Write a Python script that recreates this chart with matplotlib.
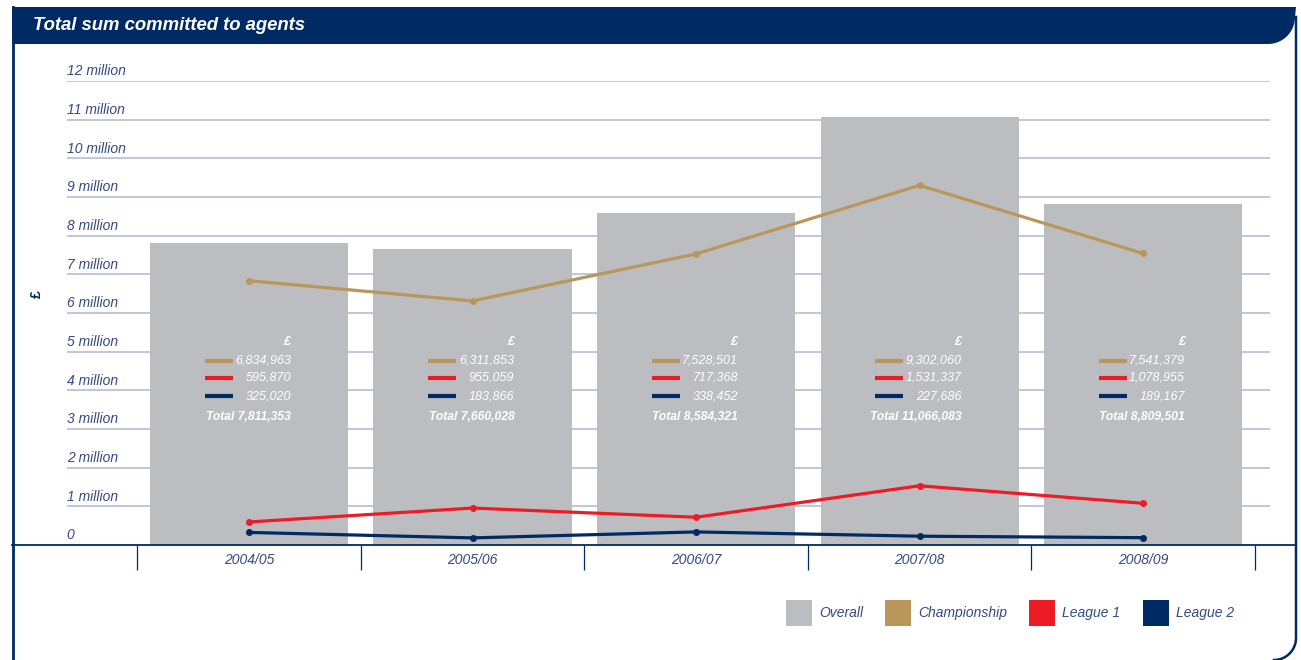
import numpy as np
import matplotlib.pyplot as plt
from matplotlib.patches import Patch, PathPatch
from matplotlib.path import Path
from matplotlib.lines import Line2D

plt.rcParams['font.family'] = ['Liberation Sans', 'DejaVu Sans']

# Data (GBP)
seasons = ["2004/05", "2005/06", "2006/07", "2007/08", "2008/09"]
overall = [7811353, 7660028, 8584321, 11066083, 8809501]
championship = [6834963, 6311853, 7528501, 9302060, 7541379]
league1 = [595870, 955059, 717368, 1531337, 1078955]
league2 = [325020, 183866, 338452, 227686, 189167]
ytick_labels = ["0"] + [f"{i} million" for i in range(1, 13)]
legend_labels = ["Overall", "Championship", "League 1", "League 2"]

# Colours
NAVY = "#002a64"
TEXT = "#34497f"
GRAY = "#bcbdc0"
TAN = "#b9975b"
RED = "#ed1c24"
GRID = "#b6bbd9"

W, H = 1301, 660


def fx(px):
    return px / W


def fy(py):
    return 1 - py / H


fig = plt.figure(figsize=(W / 100, H / 100), dpi=100)

# axes: x pixel 12..1295, y 0 at px 545, 12 million at px 81
ax = fig.add_axes([fx(12), fy(545), (1295 - 12) / W, (545 - 81) / H])
ax.set_xlim(-1.0604, 4.68)
ax.set_ylim(0, 12)

x = np.arange(len(seasons))
m = 1e6

# gridlines + y labels
ax.hlines(np.arange(1, 13), -0.815, 4.57, color=GRID, lw=1.2, zorder=0)
for i, lab in enumerate(ytick_labels):
    ax.text(-0.815, i + 0.25, lab, ha='left', va='center', fontsize=10,
            style='italic', color=TEXT)

# bars
ax.bar(x, np.array(overall) / m, width=0.886, color=GRAY, zorder=1)

# lines
for vals, col in [(championship, TAN), (league1, RED), (league2, NAVY)]:
    ax.plot(x, np.array(vals) / m, color=col, lw=2.3, marker='o', ms=4,
            zorder=3, solid_capstyle='round')

# annotations inside bars
row_y = [4.77, 4.32, 3.85]
for i in range(len(seasons)):
    ax.text(i + 0.187, 5.26, "£", ha='right', va='center', color='white',
            fontsize=9, style='italic', weight='bold', zorder=4)
    for vals, col, yy in zip([championship, league1, league2],
                             [TAN, RED, NAVY], row_y):
        ax.hlines(yy, i - 0.197, i - 0.073, color=col, lw=3, zorder=4)
        ax.text(i + 0.187, yy, f"{vals[i]:,}", ha='right', va='center',
                color='white', fontsize=9, style='italic', zorder=4)
    ax.text(i + 0.187, 3.32, f"Total {overall[i]:,}", ha='right', va='center',
            color='white', fontsize=8.7, style='italic', weight='bold', zorder=4)

# axes styling
for s in ['top', 'left', 'right']:
    ax.spines[s].set_visible(False)
ax.spines['bottom'].set_color(NAVY)
ax.spines['bottom'].set_linewidth(1.3)
ax.set_yticks([])
ax.set_xticks(x, seasons)
ax.set_xticks(np.arange(-0.5, 5.0, 1), minor=True)
ax.tick_params(axis='x', which='major', length=0, pad=6, labelsize=10,
               labelcolor=TEXT)
ax.tick_params(axis='x', which='minor', length=18, width=0.9, color=NAVY,
               direction='out')
for lab in ax.get_xticklabels():
    lab.set_style('italic')

# y axis label
fig.text(fx(37), fy(294), "£", rotation=90, ha='center', va='center',
         fontsize=10, weight='bold', color=NAVY)

# header band with rounded lower-right corner
ang = np.linspace(0, -np.pi / 2, 20)
cx, cy, r = 1268, 17, 27
arc = [(cx + r * np.cos(a), cy - r * np.sin(a)) for a in ang]
pts = [(12, 7), (1296, 7)] + arc + [(12, 44), (12, 7)]
hdr = Path([(fx(px), fy(py)) for px, py in pts])
fig.patches.append(PathPatch(hdr, facecolor=NAVY, edgecolor='none',
                             transform=fig.transFigure, figure=fig))
fig.text(fx(33), fy(26), "Total sum committed to agents", ha='left',
         va='center', fontsize=13.3, weight='bold', style='italic', color='white')

# frame
fig.add_artist(Line2D([fx(12.5), fx(12.5)], [fy(7), fy(660)], color=NAVY,
                      lw=2, transform=fig.transFigure))
ang2 = np.linspace(0, -np.pi / 2, 20)
cx2, cy2, r2 = 1274, 638, 22
rp = [(1296, 17)] + [(cx2 + r2 * np.cos(a), cy2 - r2 * np.sin(a)) for a in ang2]
fig.add_artist(Line2D([fx(p[0]) for p in rp], [fy(p[1]) for p in rp],
                      color=NAVY, lw=1.8, transform=fig.transFigure))

# legend
handles = [Patch(facecolor=c, edgecolor='none') for c in [GRAY, TAN, RED, NAVY]]
leg = fig.legend(handles, legend_labels, loc='center left',
                 bbox_to_anchor=(fx(786), fy(613)), ncol=4, frameon=False,
                 handlelength=1.87, handleheight=2.5, handletextpad=0.5,
                 columnspacing=1.6, borderpad=0, borderaxespad=0,
                 prop={'size': 10, 'style': 'italic'}, labelcolor=TEXT)

fig.savefig("out.png", dpi=100)
